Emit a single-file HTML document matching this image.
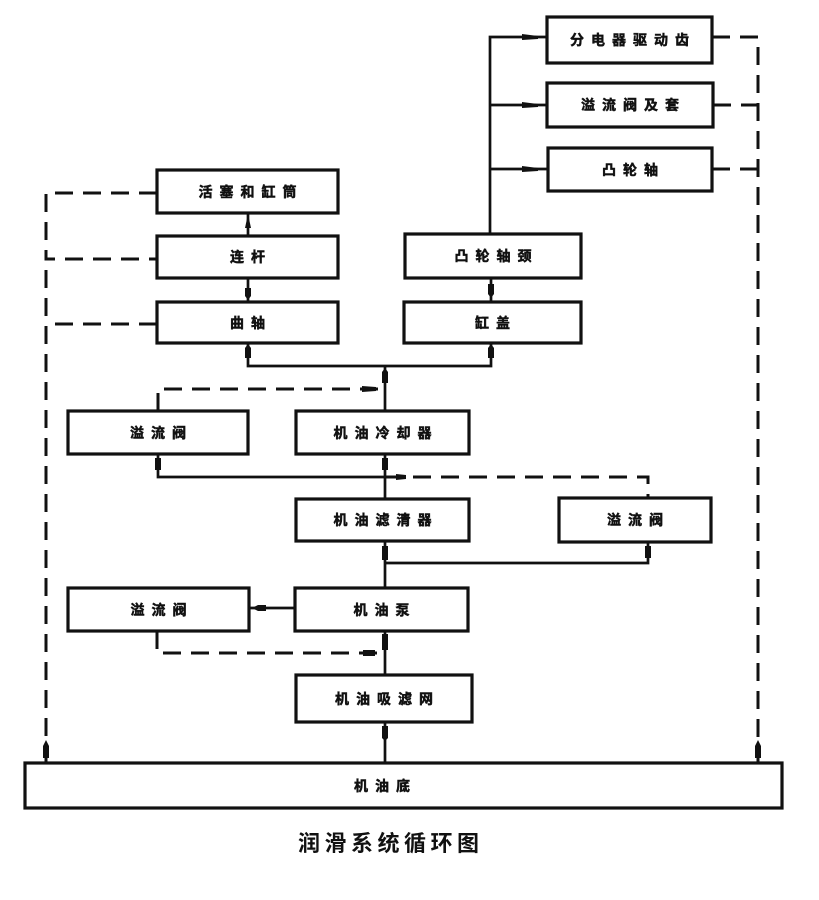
<!DOCTYPE html>
<html>
<head>
<meta charset="utf-8">
<style>
html,body{margin:0;padding:0;background:#fff;}
svg{display:block;}
text{font-family:"Liberation Sans","Noto Sans CJK SC",sans-serif;fill:#111;}
.lb{font-size:14px;font-weight:bold;letter-spacing:7px;text-anchor:middle;stroke:#111;stroke-width:0.5;}
</style>
</head>
<body>
<svg width="819" height="900" viewBox="0 0 819 900" xmlns="http://www.w3.org/2000/svg">
<rect width="819" height="900" fill="#fff"/>
<g fill="none" stroke="#111" stroke-width="3.2">
  <rect x="547" y="17" width="165" height="46"/>
  <rect x="547" y="83" width="166" height="44"/>
  <rect x="548" y="148" width="164" height="43"/>
  <rect x="157" y="170" width="181" height="43"/>
  <rect x="157" y="236" width="181" height="42"/>
  <rect x="157" y="302" width="181" height="41"/>
  <rect x="405" y="234" width="176" height="44"/>
  <rect x="404" y="302" width="177" height="41"/>
  <rect x="68" y="411" width="180" height="43"/>
  <rect x="296" y="411" width="173" height="43"/>
  <rect x="296" y="499" width="173" height="42"/>
  <rect x="559" y="498" width="152" height="44"/>
  <rect x="68" y="588" width="181" height="43"/>
  <rect x="295" y="588" width="173" height="43"/>
  <rect x="296" y="675" width="176" height="47"/>
  <rect x="25" y="763" width="757" height="45"/>
</g>
<g fill="none" stroke="#111" stroke-width="2.7">
  <path d="M490 234 V37 H547 M490 105 H547 M490 169 H548"/>
  <path d="M248 213 V236 M248 278 V302 M248 343 V366 H491 V343 M491 278 V302"/>
  <path d="M385 366 V411 M385 454 V499 M385 541 V588 M385 631 V675 M385 722 V763"/>
  <path d="M158 454 V477 H385"/>
  <path d="M648 542 V563 H385"/>
  <path d="M249 608 H295"/>
</g>
<g fill="none" stroke="#111" stroke-width="3" stroke-dasharray="18 10">
  <path d="M157 193 H46 V259 H157"/>
  <path d="M46 270 V762"/>
  <path d="M157 324 H46"/>
  <path d="M712 37 H758 V762"/>
  <path d="M713 105 H758"/>
  <path d="M712 169 H758"/>
  <path d="M158 411 V389 H385"/>
  <path d="M385 477 H648 V498"/>
  <path d="M157 631 V653 H385"/>
</g>
<g fill="#111">
  <polygon points="522,34 538,36 538,39 522,40"/>
  <polygon points="522,102 538,104 538,107 522,108"/>
  <polygon points="522,166 538,168 538,171 522,172"/>
  <polygon points="245,228 248,214 251,228"/>
  <polygon points="245,288 251,288 251,296 248,300 245,296"/>
  <polygon points="245,348 248,344 251,348 251,358 245,358"/>
  <polygon points="488,348 491,344 494,348 494,358 488,358"/>
  <polygon points="488,284 494,284 494,294 491,298 488,294"/>
  <polygon points="382,372 385,368 388,372 388,383 382,383"/>
  <polygon points="362,386 376,387 376,391 362,392"/>
  <polygon points="382,458 388,458 388,470 382,470"/>
  <polygon points="155,458 161,458 161,470 155,470"/>
  <polygon points="396,474 406,475 406,479 396,480"/>
  <polygon points="645,546 651,546 651,558 645,558"/>
  <polygon points="382,546 388,546 388,560 382,560"/>
  <polygon points="252,608 258,605 266,605 266,611 258,611"/>
  <polygon points="382,634 388,634 388,650 382,650"/>
  <polygon points="363,650 375,650 375,656 363,656"/>
  <polygon points="382,726 388,726 388,738 385,741 382,738"/>
  <polygon points="43,758 43,746 46,740 49,746 49,758"/>
  <polygon points="755,758 755,746 758,740 761,746 761,758"/>
</g>
<g>
  <text class="lb" x="633" y="45">分电器驱动齿</text>
  <text class="lb" x="633.5" y="110">溢流阀及套</text>
  <text class="lb" x="633.5" y="175">凸轮轴</text>
  <text class="lb" x="251" y="197">活塞和缸筒</text>
  <text class="lb" x="251" y="262">连杆</text>
  <text class="lb" x="251" y="328">曲轴</text>
  <text class="lb" x="496.5" y="261">凸轮轴颈</text>
  <text class="lb" x="496" y="328">缸盖</text>
  <text class="lb" x="161.5" y="438">溢流阀</text>
  <text class="lb" x="386" y="438">机油冷却器</text>
  <text class="lb" x="386" y="525">机油滤清器</text>
  <text class="lb" x="638.5" y="525">溢流阀</text>
  <text class="lb" x="162" y="615">溢流阀</text>
  <text class="lb" x="385" y="615">机油泵</text>
  <text class="lb" x="387.5" y="704">机油吸滤网</text>
  <text class="lb" x="385.5" y="791">机油底</text>
  <text x="298" y="851" style="font-size:22px;letter-spacing:4.5px;font-weight:bold;">润滑系统循环图</text>
</g>
</svg>
</body>
</html>
